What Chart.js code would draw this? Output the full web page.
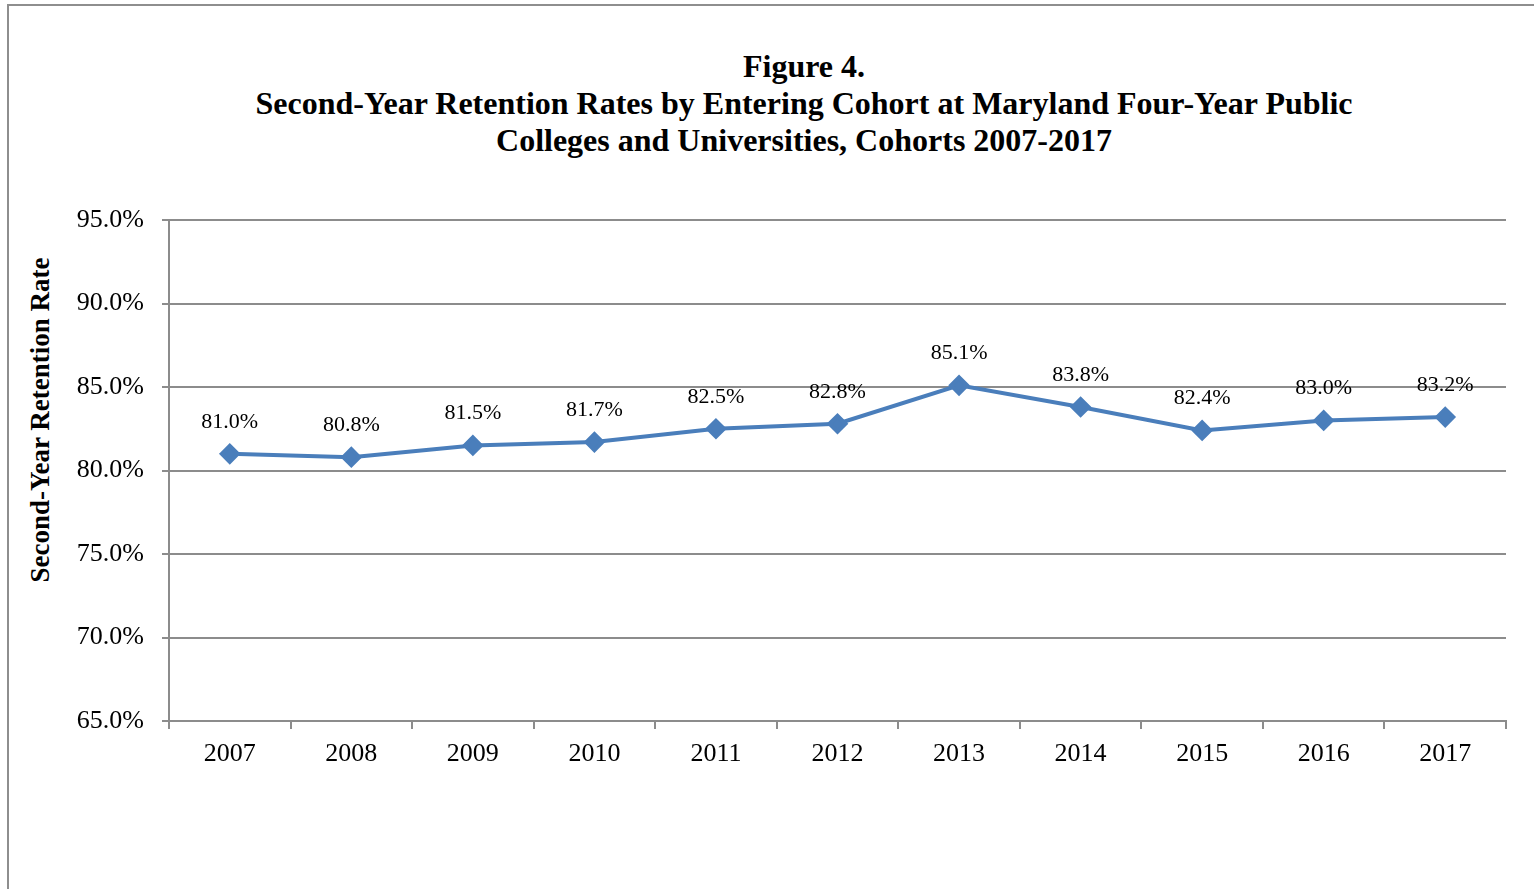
<!DOCTYPE html>
<html>
<head>
<meta charset="utf-8">
<script src="https://cdn.jsdelivr.net/npm/chart.js@4/dist/chart.umd.min.js"></script>
<style>
  html, body { margin: 0; padding: 0; background: #fff; overflow: hidden; }
  #frame {
    position: absolute; left: 7px; top: 4px; width: 2000px; height: 2000px;
    border-left: 2px solid #8e8e8e; border-top: 2px solid #8e8e8e;
  }
  #title {
    position: absolute; left: 8px; width: 1592px; top: 48px;
    text-align: center; font: bold 32px/37px "Liberation Serif", "Times New Roman", serif; color: #000;
  }
  #yTitle {
    position: absolute; left: 40px; top: 420px; white-space: nowrap;
    transform: translate(-50%, -50%) rotate(-90deg);
    font: bold 27px "Liberation Serif", "Times New Roman", serif; color: #000;
  }
  #wrap { position: absolute; left: 0; top: 0; width: 1534px; height: 889px; }
</style>
</head>
<body>
<div id="frame"></div>
<div id="title">Figure 4.<br>Second-Year Retention Rates by Entering Cohort at Maryland Four-Year Public<br>Colleges and Universities, Cohorts 2007-2017</div>
<div id="yTitle">Second-Year Retention Rate</div>
<div id="wrap"><canvas id="chart"></canvas></div>
<script>
// ===============================
// DATA
// ===============================
const cohorts = ['2007', '2008', '2009', '2010', '2011', '2012', '2013', '2014', '2015', '2016', '2017'];
const retentionRates = [81.0, 80.8, 81.5, 81.7, 82.5, 82.8, 85.1, 83.8, 82.4, 83.0, 83.2];
const yTicks = [65, 70, 75, 80, 85, 90, 95];

const serif = '"Liberation Serif", "Times New Roman", serif';
const gridColor = '#8c8c8c';

// ===============================
// VALUE LABELS
// ===============================
const valueLabels = {
  id: 'valueLabels',
  afterDatasetsDraw(chart) {
    const { ctx } = chart;
    const meta = chart.getDatasetMeta(0);
    ctx.save();
    ctx.font = '22px ' + serif;
    ctx.fillStyle = '#000';
    ctx.textAlign = 'center';
    ctx.textBaseline = 'middle';
    meta.data.forEach((pt, i) => {
      ctx.fillText(retentionRates[i].toFixed(1) + '%', pt.x, pt.y - 32);
    });
    ctx.restore();
  }
};

// ===============================
// CHART
// ===============================
new Chart(document.getElementById('chart').getContext('2d'), {
  type: 'line',
  data: {
    labels: cohorts,
    datasets: [{
      data: retentionRates,
      borderColor: '#4a7ebb',
      backgroundColor: '#4a7ebb',
      borderWidth: 4,
      pointStyle: 'rectRot',
      pointRadius: 8,
      pointHoverRadius: 8,
      tension: 0
    }]
  },
  options: {
    responsive: true,
    maintainAspectRatio: false,
    animation: false,
    events: [],
    layout: { padding: { left: 0, right: 28, top: 220, bottom: 0 } },
    plugins: {
      legend: { display: false },
      tooltip: { enabled: false }
    },
    scales: {
      x: {
        type: 'category',
        offset: true,
        grid: {
          offset: true,
          drawOnChartArea: false,
          drawTicks: true,
          tickLength: 8,
          color: gridColor,
          lineWidth: 2
        },
        border: { color: gridColor, width: 2 },
        ticks: { font: { family: serif, size: 26 }, color: '#000', padding: 10, maxRotation: 0 },
        afterFit(scale) { scale.height = 168; }
      },
      y: {
        min: 65,
        max: 95,
        afterBuildTicks(scale) { scale.ticks = yTicks.map(v => ({ value: v })); },
        grid: { color: gridColor, lineWidth: 2, tickLength: 7 },
        border: { color: gridColor, width: 2 },
        ticks: {
          font: { family: serif, size: 26 },
          color: '#000',
          padding: 18,
          callback: v => v.toFixed(1) + '%'
        },
        afterFit(scale) { scale.width = 169; }
      }
    }
  },
  plugins: [valueLabels]
});
</script>
</body>
</html>
